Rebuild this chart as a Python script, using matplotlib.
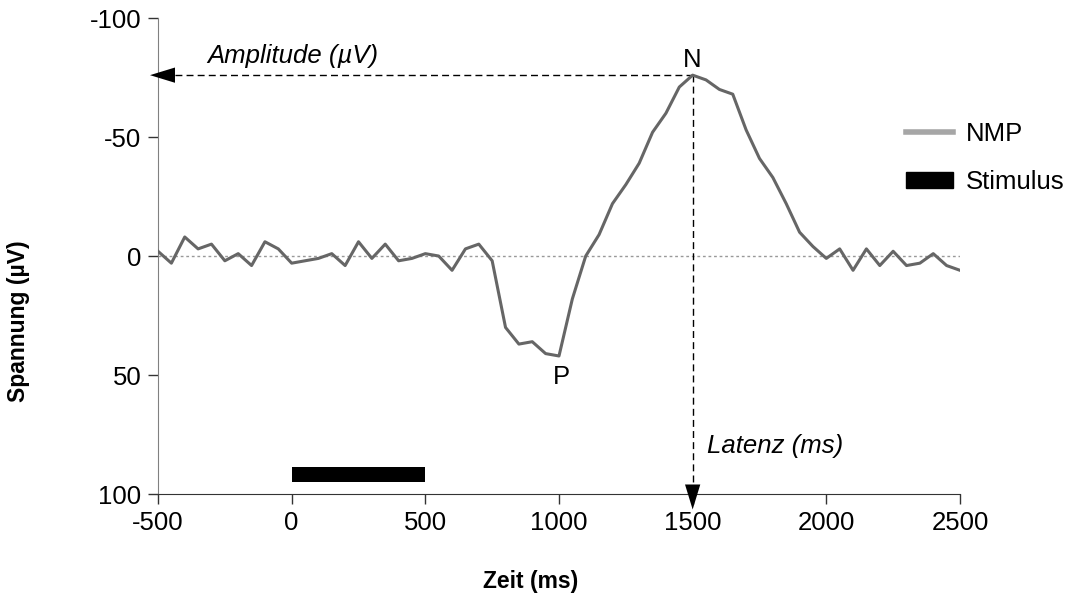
import numpy as np
import matplotlib
matplotlib.use('Agg')
import matplotlib.pyplot as plt
from matplotlib.lines import Line2D
from matplotlib.patches import Patch

plt.rcParams['font.family'] = ['Liberation Sans', 'DejaVu Sans']
plt.rcParams['axes.unicode_minus'] = False

# Zeitachse in ms, Messpunkte alle 50 ms
zeit = np.arange(-500, 2501, 50)
nmp = [-2, 3, -8, -3, -5, 2, -1, 4, -6, -3,
       3, 2, 1, -1, 4, -6, 1, -5, 2, 1,
       -1, 0, 6, -3, -5, 2, 30, 37, 36, 41,
       42, 18, 0, -9, -22, -30, -39, -52, -60, -71,
       -76, -74, -70, -68, -53, -41, -33, -22, -10, -4,
       1, -3, 6, -3, 4, -2, 4, 3, -1, 4,
       6]

stim_start, stim_end, stim_level = 0, 500, 92
peak_n = (1500, -76)
peak_p = (1000, 42)

xticks = [-500, 0, 500, 1000, 1500, 2000, 2500]
yticks = [-100, -50, 0, 50, 100]

fs = 18.5

fig = plt.figure(figsize=(10.72, 6.01), dpi=100)
ax = fig.add_axes([0.1474, 0.178, 0.7481, 0.792])

ax.axhline(0, color='#999999', linestyle=(0, (2, 2)), linewidth=1.0, zorder=1)
ax.plot(zeit, nmp, color='#666666', linewidth=2.2, zorder=3)
ax.barh(stim_level, stim_end - stim_start, left=stim_start, height=6.3,
        color='black', zorder=3)

# Amplitude / Latenz mit Pfeilspitzen an den Achsen
dash = dict(color='black', linestyle=(0, (5, 3)), linewidth=1.0, zorder=2)
ax.plot([peak_n[0], -500], [peak_n[1], peak_n[1]], clip_on=False, **dash)
ax.plot([peak_n[0], peak_n[0]], [peak_n[1], 100], clip_on=False, **dash)
head = dict(arrowstyle='-|>,head_length=1.8,head_width=0.55', color='black',
            lw=0.0, mutation_scale=10, shrinkA=0, shrinkB=0)
ax.annotate('', xy=(-530, peak_n[1]), xytext=(-420, peak_n[1]),
            arrowprops=head, annotation_clip=False)
ax.annotate('', xy=(peak_n[0], 106.5), xytext=(peak_n[0], 80),
            arrowprops=head, annotation_clip=False)

ax.text(-317, -79, 'Amplitude (µV)', fontsize=fs, style='italic', va='bottom')
ax.text(1553, 80, 'Latenz (ms)', fontsize=fs, style='italic', va='center')
ax.text(peak_n[0], -82.5, 'N', fontsize=fs, ha='center', va='center')
ax.text(peak_p[0] + 10, 51, 'P', fontsize=fs, ha='center', va='center')

ax.set_xlim(-500, 2500)
ax.set_ylim(100, -100)
ax.set_xticks(xticks)
ax.set_yticks(yticks)
ax.tick_params(labelsize=fs, color='#333333', length=7, width=1.0, pad=5)
for side in ['top', 'right']:
    ax.spines[side].set_visible(False)
ax.spines['left'].set_color('#808080')
ax.spines['bottom'].set_color('#333333')

fig.text(0.495, 0.033, 'Zeit (ms)', fontsize=16.5,
         fontweight='bold', ha='center', va='center')
fig.text(0.017, 0.466, 'Spannung (µV)', fontsize=16.5,
         fontweight='bold', rotation=90, ha='center', va='center')

handles = [Line2D([], [], color='#a6a6a6', linewidth=4),
           Patch(facecolor='black', edgecolor='black')]
fig.legend(handles, ['NMP', 'Stimulus'], loc='center left',
           bbox_to_anchor=(0.8235, 0.737), frameon=False, fontsize=18.5,
           handlelength=1.85, handleheight=0.55, handletextpad=0.5,
           labelspacing=0.95, borderpad=0.4)

fig.savefig('out.png', dpi=100)
